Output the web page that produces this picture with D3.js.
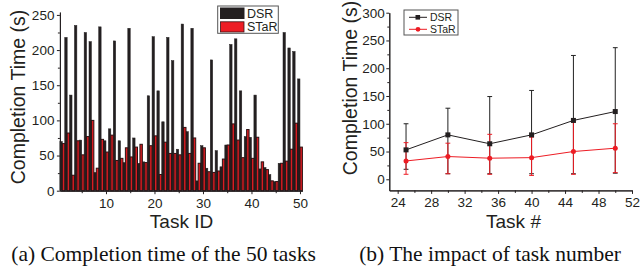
<!DOCTYPE html>
<html>
<head>
<meta charset="utf-8">
<script src="https://cdn.jsdelivr.net/npm/d3@7"></script>
<style>
  body { margin: 0; background: #fff; }
  svg { display: block; }
  .tick text { font-family: "Liberation Sans", Arial, sans-serif; fill: #231f20; }
  .title { font-family: "Liberation Sans", Arial, sans-serif; fill: #231f20; }
  .cap { font-family: "Liberation Serif", "Times New Roman", serif; fill: #111; }
</style>
</head>
<body>
<div id="chart"></div>
<script>
// (a) completion time per task
var taskIds = d3.range(1, 51);
var dsrTimes = [70, 218, 136, 235, 72, 225, 212, 26, 233, 71,
                88, 213, 71, 40, 231, 75, 39, 41, 135, 219,
                142, 98, 218, 185, 59, 237, 84, 231, 14, 64,
                32, 186, 57, 34, 65, 208, 216, 142, 77, 76,
                136, 31, 33, 23, 13, 39, 225, 203, 198, 159];
var starTimes = [67, 82, 22, 71, 51, 77, 100, 32, 73, 55,
                 79, 43, 46, 61, 48, 62, 66, 40, 64, 78,
                 23, 69, 53, 53, 51, 90, 53, 75, 39, 61,
                 27, 26, 28, 45, 65, 95, 72, 47, 87, 46,
                 76, 41, 30, 14, 13, 39, 42, 59, 96, 62];
var taskTicks = [10, 20, 30, 40, 50];
var taskMinor = [5, 15, 25, 35, 45];
var timeTicksA = [0, 50, 100, 150, 200, 250];
var timeMinorA = [25, 75, 125, 175, 225];

// (b) impact of task number
var taskNums = [25, 30, 35, 40, 45, 50];
var dsrMean = [53, 80, 64, 80, 106, 122];
var dsrLow = [18, 10, 10, 10, 10, 11];
var dsrHigh = [100, 128, 149, 160, 223, 237];
var starMean = [33, 41, 38, 39, 50, 56];
var starLow = [9, 10, 9, 7, 9, 12];
var starHigh = [66, 65, 81, 76, 103, 100];
var numTicks = [24, 28, 32, 36, 40, 44, 48, 52];
var numMinor = [26, 30, 34, 38, 42, 46, 50];
var timeTicksB = [0, 50, 100, 150, 200, 250, 300];
var timeMinorB = [25, 75, 125, 175, 225, 275];

var ink = "#231f20";
var red = "#ed1c24";

var svg = d3.select("#chart").append("svg")
    .attr("width", 640)
    .attr("height", 271);

function styleAxis(g, fontSize) {
    g.select(".domain").attr("stroke", ink).attr("stroke-width", 1);
    g.selectAll(".tick line").attr("stroke", ink).attr("stroke-width", 1);
    g.selectAll(".tick text").style("font-size", fontSize + "px");
}

// ---------- chart (a) ----------
var xA = d3.scaleLinear().domain([0.5, 50.5]).range([59.9, 302.4]);
var yA = d3.scaleLinear().domain([0, 254]).range([190.7, 12.1]);
var half = (xA(1) - xA(0)) / 2;

var gA = svg.append("g");

gA.append("g").selectAll("rect.dsr")
    .data(taskIds)
    .join("rect")
    .attr("class", "dsr")
    .attr("x", d => xA(d) - half)
    .attr("width", half)
    .attr("y", (d, i) => yA(dsrTimes[i]))
    .attr("height", (d, i) => yA(0) - yA(dsrTimes[i]))
    .attr("fill", ink)
    .attr("stroke", ink)
    .attr("stroke-width", 0.5);

gA.append("g").selectAll("rect.star")
    .data(taskIds)
    .join("rect")
    .attr("class", "star")
    .attr("x", d => xA(d))
    .attr("width", half)
    .attr("y", (d, i) => yA(starTimes[i]))
    .attr("height", (d, i) => yA(0) - yA(starTimes[i]))
    .attr("fill", "#d81c22")
    .attr("stroke", "#2a1213")
    .attr("stroke-width", 1);

// axes
gA.append("g")
    .attr("transform", "translate(0," + yA(0) + ")")
    .call(d3.axisBottom(xA).tickValues(taskMinor).tickSize(2.5).tickSizeOuter(0).tickFormat(""))
    .call(g => styleAxis(g, 13.5));
gA.append("g")
    .attr("transform", "translate(0," + yA(0) + ")")
    .call(d3.axisBottom(xA).tickValues(taskTicks).tickSize(3.5).tickPadding(4).tickSizeOuter(0))
    .call(g => styleAxis(g, 13.5));
gA.append("g")
    .attr("transform", "translate(" + xA(0.5) + ",0)")
    .call(d3.axisLeft(yA).tickValues(timeMinorA).tickSize(2).tickSizeOuter(0).tickFormat(""))
    .call(g => styleAxis(g, 13.5));
gA.append("g")
    .attr("transform", "translate(" + xA(0.5) + ",0)")
    .call(d3.axisLeft(yA).tickValues(timeTicksA).tickSize(3).tickPadding(2.5).tickSizeOuter(0))
    .call(g => styleAxis(g, 13.5));

gA.append("text").attr("class", "title")
    .attr("transform", "translate(25,97) rotate(-90)")
    .attr("text-anchor", "middle")
    .style("font-size", "19.5px")
    .text("Completion Time (s)");
gA.append("text").attr("class", "title")
    .attr("x", 181.5).attr("y", 227.5)
    .attr("text-anchor", "middle")
    .style("font-size", "19px")
    .text("Task ID");

// legend (a)
var legA = gA.append("g");
legA.append("rect")
    .attr("x", 217.7).attr("y", 6).attr("width", 60.6).attr("height", 27.3)
    .attr("fill", "#fff").attr("stroke", "#555").attr("stroke-width", 1);
legA.append("rect")
    .attr("x", 220.5).attr("y", 8).attr("width", 23.5).attr("height", 10.5)
    .attr("fill", ink).attr("stroke", ink);
legA.append("rect")
    .attr("x", 220.5).attr("y", 21.8).attr("width", 23.5).attr("height", 10.2)
    .attr("fill", red).attr("stroke", "#3a1416").attr("stroke-width", 0.8);
legA.append("text").attr("class", "title")
    .attr("x", 247).attr("y", 17.6).style("font-size", "12.5px").text("DSR");
legA.append("text").attr("class", "title")
    .attr("x", 247).attr("y", 31.4).style("font-size", "12.5px").text("STaR");

// ---------- chart (b) ----------
var xB = d3.scaleLinear().domain([23, 52]).range([389.3, 632]);
var yB = d3.scaleLinear().domain([-20, 300]).range([190.4, 12.7]);
var gB = svg.append("g");

gB.append("g")
    .attr("transform", "translate(0," + yB(-20) + ")")
    .call(d3.axisBottom(xB).tickValues(numMinor).tickSize(2.5).tickSizeOuter(0).tickFormat(""))
    .call(g => styleAxis(g, 13.5));
gB.append("g")
    .attr("transform", "translate(0," + yB(-20) + ")")
    .call(d3.axisBottom(xB).tickValues(numTicks).tickSize(3.5).tickPadding(4).tickSizeOuter(0))
    .call(g => styleAxis(g, 13.5));
gB.append("g")
    .attr("transform", "translate(" + xB(23) + ",0)")
    .call(d3.axisLeft(yB).tickValues(timeMinorB).tickSize(2).tickSizeOuter(0).tickFormat(""))
    .call(g => styleAxis(g, 13.5));
gB.append("g")
    .attr("transform", "translate(" + xB(23) + ",0)")
    .call(d3.axisLeft(yB).tickValues(timeTicksB).tickSize(3).tickPadding(1.5).tickSizeOuter(0))
    .call(g => styleAxis(g, 13.5));

function errorBars(g, means, lows, highs, color) {
    var cap = 2.4;
    var eg = g.append("g").attr("stroke", color).attr("stroke-width", 1);
    taskNums.forEach(function(t, i) {
        eg.append("line")
            .attr("x1", xB(t)).attr("x2", xB(t))
            .attr("y1", yB(lows[i])).attr("y2", yB(highs[i]));
        eg.append("line")
            .attr("x1", xB(t) - cap).attr("x2", xB(t) + cap)
            .attr("y1", yB(lows[i])).attr("y2", yB(lows[i]));
        eg.append("line")
            .attr("x1", xB(t) - cap).attr("x2", xB(t) + cap)
            .attr("y1", yB(highs[i])).attr("y2", yB(highs[i]));
    });
}

var lineGen = function(vals) {
    return d3.line()
        .x(d => xB(d))
        .y((d, i) => yB(vals[i]))(taskNums);
};

errorBars(gB, dsrMean, dsrLow, dsrHigh, "#222");
gB.append("path")
    .attr("d", lineGen(dsrMean))
    .attr("fill", "none").attr("stroke", ink).attr("stroke-width", 1);
errorBars(gB, starMean, starLow, starHigh, red);
gB.append("path")
    .attr("d", lineGen(starMean))
    .attr("fill", "none").attr("stroke", red).attr("stroke-width", 1);

gB.append("g").selectAll("circle")
    .data(taskNums)
    .join("circle")
    .attr("cx", d => xB(d))
    .attr("cy", (d, i) => yB(starMean[i]))
    .attr("r", 2.5)
    .attr("fill", red);
gB.append("g").selectAll("rect")
    .data(taskNums)
    .join("rect")
    .attr("x", d => xB(d) - 2.5)
    .attr("y", (d, i) => yB(dsrMean[i]) - 2.5)
    .attr("width", 5).attr("height", 5)
    .attr("fill", ink);

gB.append("text").attr("class", "title")
    .attr("transform", "translate(356.5,88) rotate(-90)")
    .attr("text-anchor", "middle")
    .style("font-size", "19.5px")
    .text("Completion Time (s)");
gB.append("text").attr("class", "title")
    .attr("x", 513.5).attr("y", 227.5)
    .attr("text-anchor", "middle")
    .style("font-size", "19px")
    .text("Task #");

// legend (b)
var legB = gB.append("g");
legB.append("rect")
    .attr("x", 404).attr("y", 10).attr("width", 54).attr("height", 25)
    .attr("fill", "#fff").attr("stroke", "#555").attr("stroke-width", 1);
legB.append("line")
    .attr("x1", 409).attr("x2", 427).attr("y1", 17.3).attr("y2", 17.3)
    .attr("stroke", ink);
legB.append("rect")
    .attr("x", 415.5).attr("y", 15).attr("width", 4.6).attr("height", 4.6)
    .attr("fill", ink);
legB.append("line")
    .attr("x1", 409).attr("x2", 427).attr("y1", 29.3).attr("y2", 29.3)
    .attr("stroke", red);
legB.append("circle")
    .attr("cx", 418).attr("cy", 29.3).attr("r", 2.4)
    .attr("fill", red);
legB.append("text").attr("class", "title")
    .attr("x", 430).attr("y", 21.2).style("font-size", "10.5px").text("DSR");
legB.append("text").attr("class", "title")
    .attr("x", 430).attr("y", 33.2).style("font-size", "10.5px").text("STaR");

// captions
svg.append("text").attr("class", "cap")
    .attr("x", 163.5).attr("y", 260.5)
    .attr("text-anchor", "middle")
    .style("font-size", "21.5px")
    .text("(a) Completion time of the 50 tasks");
svg.append("text").attr("class", "cap")
    .attr("x", 490).attr("y", 260.5)
    .attr("text-anchor", "middle")
    .style("font-size", "21.5px")
    .text("(b) The impact of task number");
</script>
</body>
</html>
